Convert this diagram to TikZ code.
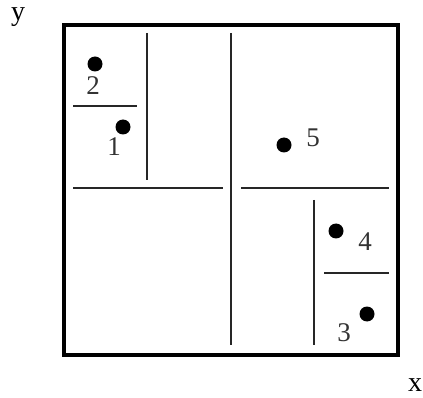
\documentclass[tikz,border=0pt]{standalone}
\usepackage{fontspec}
\setmainfont{Liberation Serif}
\begin{document}
\begin{tikzpicture}[x=1pt,y=-1pt,
  dot/.style={circle,fill=black,inner sep=0pt,minimum size=15pt},
  lbl/.style={inner sep=0pt,font=\fontsize{27}{27}\selectfont,text=black!80},
  axl/.style={inner sep=0pt,font=\fontsize{28}{28}\selectfont},
  split/.style={line width=2pt,black!85},
  frame/.style={line width=4pt}]
\useasboundingbox (0,0) rectangle (423,398);
\draw[frame] (64,25) rectangle (398,355);
% splits
\draw[split] (231,33) -- (231,345);
\draw[split] (73,188) -- (223,188);
\draw[split] (241,188) -- (389,188);
\draw[split] (147,33) -- (147,180);
\draw[split] (73,106) -- (137,106);
\draw[split] (314,200) -- (314,345);
\draw[split] (324,273) -- (389,273);
% points
\node[dot] (p2) at (95,64) {};
\node[dot] (p1) at (123,127) {};
\node[dot] (p5) at (284,145) {};
\node[dot] (p4) at (336,231) {};
\node[dot] (p3) at (367,314) {};
\node[lbl] (l2) at (93,86) {2};
\node[lbl] (l1) at (114,147) {1};
\node[lbl] (l5) at (313,138) {5};
\node[lbl] (l4) at (365,242) {4};
\node[lbl] (l3) at (344,333) {3};
\node[axl] (ylab) at (18,17) {y};
\node[axl] (xlab) at (415,385) {x};
\end{tikzpicture}
\end{document}
